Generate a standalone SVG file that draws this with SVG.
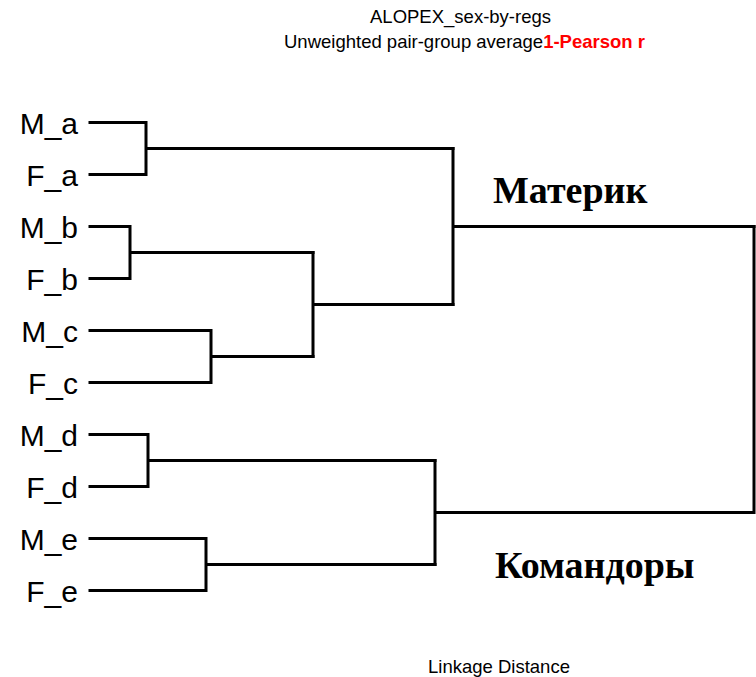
<svg xmlns="http://www.w3.org/2000/svg" width="756" height="677" viewBox="0 0 756 677">
<style>
.lbl{font-family:"Liberation Sans",Arial,sans-serif;font-size:30px;fill:#000;text-anchor:end}
.t{font-family:"Liberation Sans",Arial,sans-serif;font-size:18.5px;fill:#000}
.grp{font-family:"Liberation Serif","Times New Roman",serif;font-size:38px;font-weight:bold;fill:#000}
.ln{fill:none;stroke:#000;stroke-width:3;stroke-linecap:square}
</style>
<rect width="756" height="677" fill="#fff"/>
<g id="title">
<text class="t" x="460.5" y="22.7" text-anchor="middle">ALOPEX_sex-by-regs</text>
<text class="t" x="284" y="47.5">Unweighted pair-group average<tspan fill="#ff0000" font-weight="bold">1-Pearson r</tspan></text>
</g>
<g id="leaf-M_a"><text class="lbl" x="78" y="134">M_a</text></g>
<g id="leaf-F_a"><text class="lbl" x="78" y="186">F_a</text></g>
<g id="leaf-M_b"><text class="lbl" x="78" y="238">M_b</text></g>
<g id="leaf-F_b"><text class="lbl" x="78" y="290">F_b</text></g>
<g id="leaf-M_c"><text class="lbl" x="78" y="342">M_c</text></g>
<g id="leaf-F_c"><text class="lbl" x="78" y="394">F_c</text></g>
<g id="leaf-M_d"><text class="lbl" x="78" y="446">M_d</text></g>
<g id="leaf-F_d"><text class="lbl" x="78" y="498">F_d</text></g>
<g id="leaf-M_e"><text class="lbl" x="78" y="550">M_e</text></g>
<g id="leaf-F_e"><text class="lbl" x="78" y="602">F_e</text></g>
<g id="group-materik"><text class="grp" x="493" y="203">Материк</text></g>
<g id="group-komandory"><text class="grp" x="495" y="578">Командоры</text></g>
<g id="connectors">
<path class="ln" d="M90 122.5H146V174.5H90M146 148.5H453"/>
<path class="ln" d="M90 226.5H130V278.5H90M130 252.5H313"/>
<path class="ln" d="M90 330.5H211V382.5H90M211 356.5H313"/>
<path class="ln" d="M313 252.5V356.5M313 304.5H453"/>
<path class="ln" d="M453 148.5V304.5M453 226.5H754"/>
<path class="ln" d="M90 434.5H148V486.5H90M148 460.5H435"/>
<path class="ln" d="M90 538.5H206V590.5H90M206 564.5H435"/>
<path class="ln" d="M435 460.5V564.5M435 512.5H754V226.5"/>
</g>
<g id="axis"><text class="t" x="499" y="673" text-anchor="middle">Linkage Distance</text></g>
</svg>
